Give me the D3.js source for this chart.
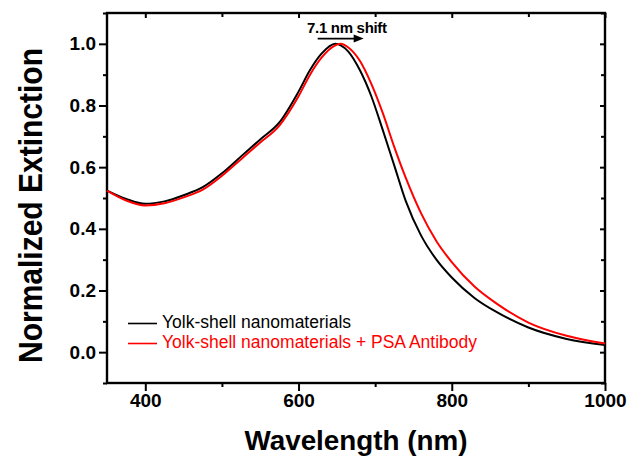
<!DOCTYPE html>
<html>
<head>
<meta charset="utf-8">
<script src="https://cdn.jsdelivr.net/npm/d3@7/dist/d3.min.js"></script>
<style>
  body { margin: 0; background: #fff; }
  svg { display: block; }
  .tick text { font-family: "Liberation Sans", Arial, sans-serif; font-weight: bold; font-size: 19px; }
</style>
</head>
<body>
<svg id="mysvg" width="633" height="463"></svg>
<script>
// data
const wavelength = [350, 375, 400, 425, 450, 475, 500, 525, 550, 575, 600, 615, 630, 648, 655, 665, 680, 695, 710, 725, 740, 760, 780, 800, 830, 860, 900, 950, 1000];
const yolkShell = [0.524, 0.497, 0.481, 0.489, 0.509, 0.535, 0.58, 0.635, 0.69, 0.745, 0.845, 0.915, 0.968, 1.0, 0.995, 0.975, 0.915, 0.83, 0.72, 0.605, 0.49, 0.378, 0.3, 0.242, 0.175, 0.128, 0.08, 0.043, 0.023];
const yolkShellPSA = [0.524, 0.492, 0.476, 0.483, 0.502, 0.527, 0.572, 0.626, 0.68, 0.735, 0.83, 0.9, 0.955, 0.995, 1.0, 0.988, 0.945, 0.87, 0.775, 0.665, 0.565, 0.45, 0.36, 0.292, 0.212, 0.155, 0.096, 0.053, 0.028];

const seriesNames = ["Yolk-shell nanomaterials", "Yolk-shell nanomaterials + PSA Antibody"];
const seriesColors = ["#000000", "#ff0000"];

const xMajor = [400, 600, 800, 1000];
const xMinor = [500, 700, 900];
const yMajor = [0.0, 0.2, 0.4, 0.6, 0.8, 1.0];
const yMinor = [-0.1, 0.1, 0.3, 0.5, 0.7, 0.9, 1.1];

const shiftLabel = "7.1 nm shift";
const shiftArrow = [625, 685]; // nm
const shiftY = 1.017;

const svg = d3.select("#mysvg");
const plotLeft = 107, plotRight = 605, plotTop = 13, plotBottom = 383;

const x = d3.scaleLinear().domain([350, 1000]).range([plotLeft, plotRight]);
const y = d3.scaleLinear().domain([-0.1, 1.1]).range([plotBottom, plotTop]);

const fmt = d3.format(".1f");

// bottom axis
svg.append("g").attr("transform", `translate(0,${plotBottom})`)
  .call(d3.axisBottom(x).tickValues(xMajor).tickSize(8).tickPadding(3).tickFormat(d3.format("d")));
svg.append("g").attr("transform", `translate(0,${plotBottom})`)
  .call(d3.axisBottom(x).tickValues(xMinor).tickSize(4).tickFormat(""));
// top axis (inward ticks)
svg.append("g").attr("transform", `translate(0,${plotTop})`)
  .call(d3.axisTop(x).tickValues(xMajor).tickSize(-5).tickFormat(""));
svg.append("g").attr("transform", `translate(0,${plotTop})`)
  .call(d3.axisTop(x).tickValues(xMinor).tickSize(-4).tickFormat(""));
// left axis
svg.append("g").attr("transform", `translate(${plotLeft},0)`)
  .call(d3.axisLeft(y).tickValues(yMajor).tickSize(8).tickPadding(3).tickFormat(fmt));
svg.append("g").attr("transform", `translate(${plotLeft},0)`)
  .call(d3.axisLeft(y).tickValues(yMinor).tickSize(4).tickFormat(""));
// right axis (inward ticks)
svg.append("g").attr("transform", `translate(${plotRight},0)`)
  .call(d3.axisRight(y).tickValues(yMajor).tickSize(-5).tickFormat(""));
svg.append("g").attr("transform", `translate(${plotRight},0)`)
  .call(d3.axisRight(y).tickValues(yMinor).tickSize(-4).tickFormat(""));

svg.selectAll(".domain").remove();
svg.selectAll(".tick line").attr("stroke", "#000").attr("stroke-width", 2);
svg.selectAll(".tick text").attr("fill", "#000");

// frame
svg.append("rect")
  .attr("x", plotLeft).attr("y", plotTop)
  .attr("width", plotRight - plotLeft).attr("height", plotBottom - plotTop)
  .attr("fill", "none").attr("stroke", "#000").attr("stroke-width", 2.4);

// curves
const line = d3.line()
  .x((d, i) => x(wavelength[i]))
  .y(d => y(d))
  .curve(d3.curveMonotoneX);

[yolkShell, yolkShellPSA].forEach((vals, k) => {
  svg.append("path")
    .datum(vals)
    .attr("d", line)
    .attr("fill", "none")
    .attr("stroke", seriesColors[k])
    .attr("stroke-width", 2);
});

// legend
seriesNames.forEach((name, k) => {
  const ly = 323.5 + k * 20;
  svg.append("line")
    .attr("x1", 128).attr("x2", 157)
    .attr("y1", ly).attr("y2", ly)
    .attr("stroke", seriesColors[k]).attr("stroke-width", 1.6);
  svg.append("text")
    .attr("x", 162).attr("y", ly + 4)
    .attr("fill", seriesColors[k])
    .style("font-family", "'Liberation Sans', Arial, sans-serif")
    .style("font-size", "17.5px")
    .text(name);
});

// shift annotation
svg.append("text")
  .attr("x", 307).attr("y", 32.7)
  .style("font-family", "'Liberation Sans', Arial, sans-serif")
  .style("font-weight", "bold")
  .style("font-size", "15px")
  .style("letter-spacing", "-0.3px")
  .text(shiftLabel);

const ax0 = x(shiftArrow[0]), ax1 = x(shiftArrow[1]), ay = y(shiftY);
svg.append("line")
  .attr("x1", ax0).attr("x2", ax1 - 8)
  .attr("y1", ay).attr("y2", ay)
  .attr("stroke", "#000").attr("stroke-width", 1.6);
svg.append("path")
  .attr("d", `M${ax1},${ay} L${ax1 - 10},${ay - 4} L${ax1 - 10},${ay + 4} Z`)
  .attr("fill", "#000");

// axis titles
svg.append("text")
  .attr("x", (plotLeft + plotRight) / 2).attr("y", 450)
  .attr("text-anchor", "middle")
  .attr("textLength", 223).attr("lengthAdjust", "spacingAndGlyphs")
  .style("font-family", "'Liberation Sans', Arial, sans-serif")
  .style("font-weight", "bold")
  .style("font-size", "27px")
  .text("Wavelength (nm)");

svg.append("text")
  .attr("transform", `translate(41.5,205.5) rotate(-90)`)
  .attr("text-anchor", "middle")
  .attr("textLength", 315).attr("lengthAdjust", "spacingAndGlyphs")
  .style("font-family", "'Liberation Sans', Arial, sans-serif")
  .style("font-weight", "bold")
  .style("font-size", "34px")
  .text("Normalized Extinction");
</script>
</body>
</html>
